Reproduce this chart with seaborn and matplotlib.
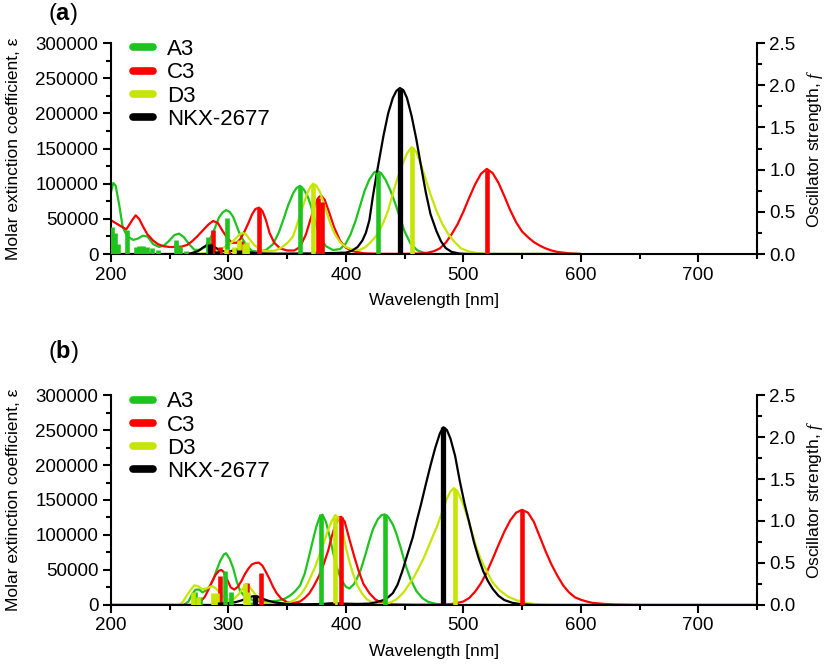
import matplotlib
matplotlib.use("Agg")
import matplotlib.pyplot as plt
import seaborn as sns
from matplotlib.lines import Line2D
from matplotlib.ticker import MultipleLocator, FormatStrFormatter

# ---------------- data ----------------
names = ["A3", "C3", "D3", "NKX-2677"]
colors = ["#1DC41D", "#FF0000", "#C6E500", "#000000"]

# panel (a): broadened spectra  (wavelength nm, epsilon)
a_A3_wl = [200, 202, 204, 207, 210, 214, 219, 223, 227, 231, 236, 241, 245, 249, 254, 258, 262, 266, 271, 276,
           280, 284, 288, 292, 295, 298, 301, 304, 307, 310, 315, 320, 325, 332, 338, 343, 347, 351, 355, 358,
           361, 364, 367, 370, 374, 378, 383, 389, 395, 400, 404, 408, 412, 416, 420, 424, 427, 430, 434, 438,
           442, 446, 450, 455, 461, 468, 475, 600]
a_A3_eps = [88000, 101000, 97000, 70000, 38000, 25000, 20000, 22000, 26000, 25000, 14000, 10000, 12000, 18000,
            27000, 29000, 24000, 15000, 6000, 6000, 10000, 20000, 35000, 52000, 59000, 62500, 60000, 53000, 40000,
            27000, 13000, 4500, 3500, 5700, 14000, 31000, 50000, 70000, 86000, 94000, 97000, 92000, 84000, 70000,
            46000, 24000, 11000, 5700, 7000, 15000, 28000, 46000, 68000, 90000, 106000, 116000, 118000, 115000,
            105000, 90000, 72000, 52000, 32000, 15000, 5000, 1000, 0, 0]

a_C3_wl = [200, 203, 206, 210, 213, 215, 218, 221, 224, 227, 231, 236, 240, 245, 250, 255, 260, 265, 269, 274,
           279, 283, 287, 291, 295, 299, 303, 307, 310, 314, 317, 320, 323, 326, 329, 332, 335, 339, 344, 350,
           356, 361, 366, 370, 374, 377, 379, 382, 386, 390, 395, 400, 406, 415, 430, 450, 460, 465, 470, 475,
           480, 485, 490, 495, 500, 505, 510, 515, 520, 525, 530, 535, 540, 545, 550, 555, 560, 565, 570, 575,
           580, 590, 600]
a_C3_eps = [48000, 45000, 42000, 38000, 35000, 40000, 48000, 55000, 50000, 40000, 28000, 19000, 14000, 11000,
            10000, 10000, 10500, 13000, 18000, 26000, 35000, 42000, 47000, 44000, 33000, 23000, 16000, 16000,
            21000, 33000, 44000, 56000, 64000, 66000, 61000, 48000, 30000, 16000, 8000, 5000, 5000, 10000, 28000,
            50000, 71000, 81000, 83000, 77000, 58000, 38000, 19000, 9000, 4000, 1000, 300, 300, 500, 1000, 2000,
            4000, 8000, 16000, 28000, 42000, 60000, 80000, 99000, 114000, 121000, 115000, 101000, 82000, 62000,
            45000, 32000, 24000, 17000, 12000, 8000, 5000, 3000, 1000, 0]

a_D3_wl = [270, 280, 287, 292, 297, 301, 305, 309, 312, 315, 318, 322, 326, 330, 335, 340, 346, 351, 355, 358,
           361, 364, 367, 370, 372, 375, 378, 382, 386, 390, 395, 400, 406, 412, 416, 420, 424, 428, 432, 436,
           440, 444, 448, 452, 456, 460, 464, 468, 472, 477, 482, 487, 492, 498, 505, 512, 520, 600]
a_D3_eps = [0, 1000, 3000, 6000, 10000, 14000, 20000, 27000, 30000, 28000, 21000, 13000, 7000, 4500, 4000, 5000,
            10000, 17000, 25000, 40000, 55000, 71000, 86000, 96000, 100000, 97000, 88000, 68000, 47000, 30000,
            17000, 10000, 6000, 6000, 9000, 15000, 22000, 31000, 45000, 62000, 86000, 108000, 127000, 143000,
            152000, 145000, 127000, 106000, 85000, 62000, 43000, 29000, 18000, 8000, 3500, 1200, 0, 0]

a_NKX_wl = [200, 262, 268, 274, 279, 283, 286, 289, 293, 298, 303, 308, 312, 318, 325, 340, 370, 390, 400, 405,
            410, 414, 417, 420, 423, 426, 429, 432, 436, 440, 443, 446, 449, 452, 456, 460, 464, 468, 472, 477,
            481, 485, 490, 497, 505, 600]
a_NKX_eps = [0, 0, 1000, 4000, 10000, 13500, 13500, 9000, 5000, 3500, 4500, 6500, 5500, 2500, 1000, 500, 800,
             1500, 2000, 4500, 10000, 19000, 30000, 48000, 82000, 112000, 140000, 168000, 200000, 222000, 232000,
             236000, 233000, 222000, 196000, 163000, 125000, 88000, 57000, 33000, 18000, 8500, 3000, 600, 0, 0]

# panel (a): oscillator strengths (sticks)
a_A3_st_wl = [201, 203.5, 206, 214, 221, 224, 227, 231, 235, 240, 255, 259, 264, 283, 292, 298.5, 316, 361, 427]
a_A3_st_f = [0.32, 0.25, 0.12, 0.28, 0.08, 0.09, 0.10, 0.08, 0.07, 0.05, 0.17, 0.10, 0.04, 0.20, 0.05, 0.43,
             0.06, 0.80, 0.97]
a_C3_st_wl = [287, 293, 300, 311, 326, 376, 379.5, 520]
a_C3_st_f = [0.28, 0.08, 0.05, 0.15, 0.54, 0.66, 0.62, 1.00]
a_D3_st_wl = [298, 305, 309, 313, 316, 372, 456]
a_D3_st_f = [0.06, 0.08, 0.17, 0.12, 0.14, 0.83, 1.27]
a_NKX_st_wl = [284, 290, 309, 395, 446.5]
a_NKX_st_f = [0.12, 0.04, 0.05, 0.02, 1.96]

# panel (b): broadened spectra
b_A3_wl = [200, 262, 266, 269, 272, 275, 278, 281, 284, 287, 290, 293, 296, 298, 301, 304, 307, 310, 314, 318,
           322, 328, 335, 342, 348, 353, 357, 361, 365, 369, 372, 375, 378, 380, 383, 386, 389, 392, 396, 400,
           403, 407, 410, 413, 417, 420, 423, 427, 430, 433, 436, 440, 443, 447, 451, 455, 460, 465, 470, 477,
           485, 650]
b_A3_eps = [0, 0, 5000, 15000, 22000, 22000, 18000, 21000, 27000, 36000, 50000, 63000, 72000, 74000, 66000,
            53000, 34000, 20000, 12000, 9000, 6000, 5000, 5000, 6000, 9000, 14000, 20000, 28000, 45000, 72000,
            93000, 113000, 127000, 129000, 119000, 99000, 76000, 55000, 36000, 26000, 23500, 30000, 40000, 52000,
            74000, 92000, 108000, 122000, 128000, 129500, 126000, 115000, 102000, 80000, 56000, 37000, 20000,
            10000, 4500, 1500, 0, 0]

b_C3_wl = [200, 268, 272, 276, 280, 283, 286, 289, 292, 294, 296, 299, 302, 305, 308, 311, 314, 317, 320, 323,
           326, 329, 332, 335, 338, 341, 345, 350, 356, 361, 365, 369, 373, 377, 381, 385, 388, 391, 394, 396,
           399, 403, 407, 411, 415, 420, 425, 430, 440, 460, 480, 490, 495, 500, 505, 510, 515, 520, 525, 530,
           535, 540, 545, 550, 555, 560, 565, 570, 575, 580, 585, 590, 595, 600, 605, 610, 620, 630, 645, 750]
b_C3_eps = [0, 0, 1000, 4000, 12000, 22000, 33000, 43000, 49000, 50000, 47000, 36000, 25000, 22000, 26000,
            34000, 44000, 52000, 58000, 60000, 60500, 56000, 47000, 37000, 26000, 17000, 9000, 4000, 3000, 5000,
            10000, 17000, 28000, 41000, 58000, 78000, 98000, 114000, 125000, 126000, 119000, 94000, 70000, 48000,
            30000, 17000, 8000, 3500, 1000, 500, 500, 1500, 3000, 5000, 10000, 19000, 31000, 47000, 66000, 86000,
            105000, 121000, 132000, 136000, 132000, 119000, 98000, 77000, 58000, 42000, 28000, 18000, 11000, 7500,
            5000, 3000, 1500, 600, 0, 0]

b_D3_wl = [200, 258, 261, 264, 268, 271, 274, 278, 282, 286, 289, 292, 296, 300, 304, 308, 312, 315, 318, 322,
           326, 330, 336, 345, 352, 358, 362, 366, 370, 374, 378, 382, 385, 388, 391, 394, 397, 400, 403, 406,
           410, 414, 418, 423, 430, 437, 442, 446, 450, 454, 458, 462, 466, 470, 474, 478, 482, 486, 489, 492,
           495, 499, 503, 507, 511, 515, 520, 525, 531, 538, 545, 555, 565, 575, 750]
b_D3_eps = [0, 0, 4000, 12000, 22000, 28000, 27000, 22500, 24000, 27000, 24000, 19000, 12000, 7500, 8000, 14000,
            23000, 28500, 26000, 17000, 8000, 3000, 1500, 1500, 3500, 9000, 16000, 26000, 40000, 55000, 74000,
            93000, 108000, 120000, 128500, 124000, 108000, 82000, 62000, 45000, 27000, 16000, 8000, 3000, 1500,
            3000, 7000, 12500, 20000, 30000, 40000, 53000, 66000, 82000, 98000, 114000, 133000, 152000, 162000,
            167000, 162000, 148000, 128000, 106000, 83000, 65000, 48000, 32000, 21000, 12000, 7000, 2500, 800, 0, 0]

b_NKX_wl = [200, 285, 290, 295, 300, 306, 312, 317, 321, 325, 329, 334, 340, 350, 365, 380, 388, 395, 410, 420,
            426, 432, 436, 440, 444, 448, 452, 457, 460, 464, 468, 472, 476, 480, 483, 486, 489, 493, 497, 501,
            505, 509, 513, 517, 521, 525, 530, 535, 542, 550, 560, 750]
b_NKX_eps = [0, 0, 1000, 2500, 3000, 4000, 7000, 11000, 12500, 12000, 9000, 6000, 3500, 1500, 1000, 1500, 2500,
             2000, 1500, 2000, 4000, 7000, 11000, 17000, 29000, 48000, 70000, 97000, 118000, 144000, 172000,
             199000, 224000, 245000, 254000, 250000, 238000, 213000, 177000, 145000, 118000, 90000, 67000, 48000,
             34000, 23000, 13000, 7000, 3000, 1000, 0, 0]

# panel (b): oscillator strengths (sticks)
b_A3_st_wl = [271.5, 276, 297, 302.5, 319, 379, 433]
b_A3_st_f = [0.15, 0.10, 0.41, 0.15, 0.04, 1.08, 1.08]
b_C3_st_wl = [293, 316, 328, 395.5, 550]
b_C3_st_f = [0.34, 0.26, 0.38, 1.05, 1.13]
b_D3_st_wl = [270, 274, 287, 290, 314, 316.5, 391, 492.5]
b_D3_st_f = [0.15, 0.10, 0.14, 0.14, 0.26, 0.15, 1.05, 1.38]
b_NKX_st_wl = [293, 323, 388, 482.5]
b_NKX_st_f = [0.03, 0.12, 0.02, 2.12]

# ---------------- style ----------------
sns.set_style("ticks", {"axes.edgecolor": "black", "xtick.color": "black", "ytick.color": "black",
                        "text.color": "black", "axes.labelcolor": "black"})
plt.rcParams["font.family"] = ["Liberation Sans", "DejaVu Sans"]
plt.rcParams["mathtext.fontset"] = "custom"
plt.rcParams["mathtext.rm"] = "Liberation Sans"
plt.rcParams["mathtext.bf"] = "Liberation Sans:bold"
plt.rcParams["mathtext.it"] = "Liberation Serif:italic"

fig = plt.figure(figsize=(8.3, 6.66), dpi=100)
ax_a = fig.add_axes([0.1337, 0.6186, 0.7783, 0.3168])
ax_b = fig.add_axes([0.1337, 0.0916, 0.7783, 0.3153])


def draw_panel(ax, curves, sticks, tag, tag_y):
    ax2 = ax.twinx()
    for (wl, eps), c in zip(curves, colors):
        sns.lineplot(x=wl, y=eps, color=c, linewidth=1.6, ax=ax, estimator=None, sort=False)
    for (wl, f), c in zip(sticks, colors):
        lw = 3.8 if c == "#000000" else 3.3
        ax2.vlines(wl, 0, f, colors=c, linewidth=lw)

    ax.set_xlim(200, 750)
    ax.set_ylim(0, 300000)
    ax2.set_ylim(0, 2.5)
    ax.xaxis.set_major_locator(MultipleLocator(100))
    ax.xaxis.set_minor_locator(MultipleLocator(50))
    ax.yaxis.set_major_locator(MultipleLocator(50000))
    ax.yaxis.set_minor_locator(MultipleLocator(25000))
    ax2.yaxis.set_major_locator(MultipleLocator(0.5))
    ax2.yaxis.set_minor_locator(MultipleLocator(0.25))
    ax2.yaxis.set_major_formatter(FormatStrFormatter("%.1f"))
    ax.ticklabel_format(axis="y", style="plain")

    for a in (ax, ax2):
        a.tick_params(which="major", direction="out", length=6, width=1.5, labelsize=13.5, pad=3)
        a.tick_params(which="minor", direction="out", length=3.5, width=1.5)
    ax.spines["top"].set_visible(False)
    ax.spines["right"].set_visible(False)
    ax2.spines["top"].set_visible(False)
    ax2.spines["left"].set_visible(False)
    ax2.spines["bottom"].set_visible(False)
    for s in ("left", "bottom"):
        ax.spines[s].set_linewidth(1.5)
    ax2.spines["right"].set_linewidth(1.5)

    ax.set_xlabel("Wavelength [nm]", fontsize=12.5)
    ax.xaxis.set_label_coords(0.5, -0.185)
    ax.set_ylabel("Molar extinction coefficient, ε", fontsize=12.5)
    ax.yaxis.set_label_coords(-0.14, 0.5)
    ax2.set_ylabel("Oscillator strength, $f$", fontsize=12.5)
    ax2.yaxis.set_label_coords(1.074, 0.5)

    handles = [Line2D([0], [0], color=c, lw=5.5, solid_capstyle="round") for c in colors]
    ax2.legend(handles, names, loc="upper left", bbox_to_anchor=(0.02, 1.06), frameon=False,
               fontsize=16, handlelength=0.9, handletextpad=0.65, labelspacing=0.1, borderaxespad=0)

    fig.text(0.058, tag_y, r"($\mathbf{" + tag + "}$)", fontsize=17, va="center", ha="left")


draw_panel(ax_a,
           [(a_A3_wl, a_A3_eps), (a_C3_wl, a_C3_eps), (a_D3_wl, a_D3_eps), (a_NKX_wl, a_NKX_eps)],
           [(a_A3_st_wl, a_A3_st_f), (a_C3_st_wl, a_C3_st_f), (a_D3_st_wl, a_D3_st_f), (a_NKX_st_wl, a_NKX_st_f)],
           "a", 0.979)
draw_panel(ax_b,
           [(b_A3_wl, b_A3_eps), (b_C3_wl, b_C3_eps), (b_D3_wl, b_D3_eps), (b_NKX_wl, b_NKX_eps)],
           [(b_A3_st_wl, b_A3_st_f), (b_C3_st_wl, b_C3_st_f), (b_D3_st_wl, b_D3_st_f), (b_NKX_st_wl, b_NKX_st_f)],
           "b", 0.4715)

fig.savefig("out.png", dpi=100)
